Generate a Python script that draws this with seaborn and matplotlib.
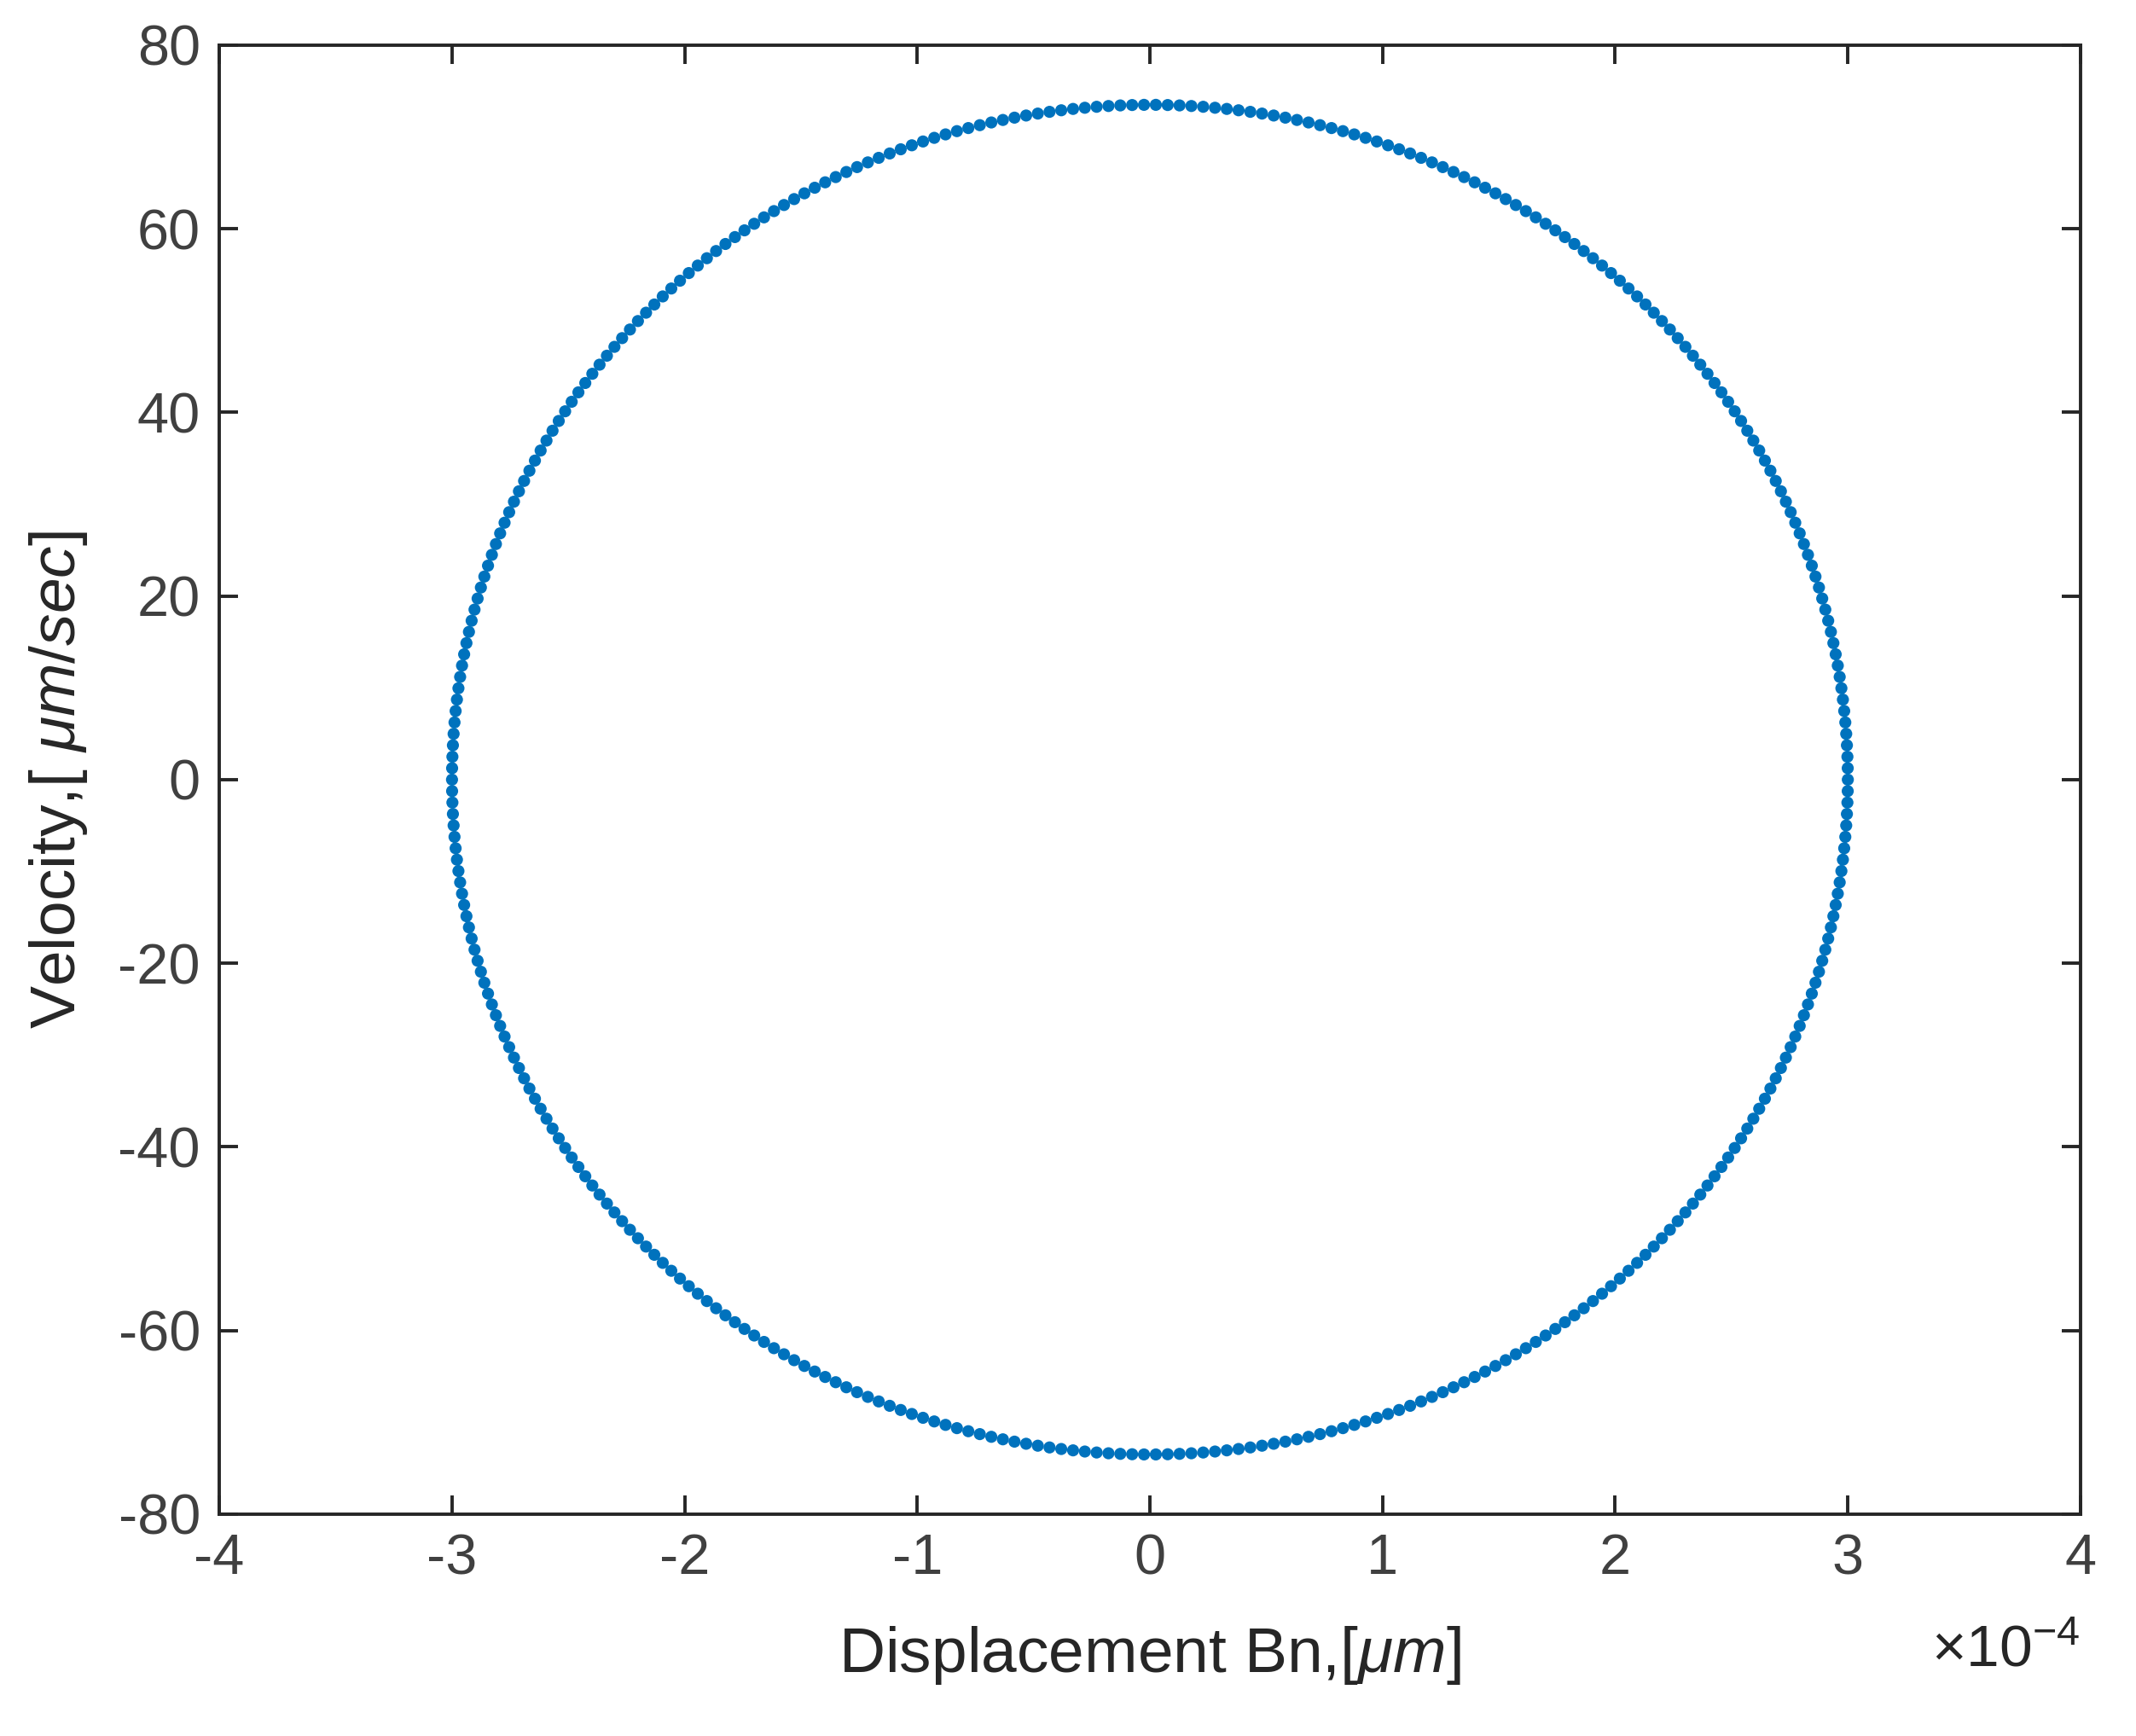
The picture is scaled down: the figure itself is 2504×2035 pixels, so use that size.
import numpy as np
import pandas as pd
import seaborn as sns
import matplotlib.pyplot as plt
from matplotlib.ticker import FuncFormatter

# phase portrait: displacement amplitude and peak velocity
disp_amplitude = 3.0e-4      # um
vel_amplitude = 73.5         # um/sec
n_samples = 370              # dots around the loop
x_ticks = [-4, -3, -2, -1, 0, 1, 2, 3, 4]
y_ticks = [-80, -60, -40, -20, 0, 20, 40, 60, 80]

phase = np.linspace(0, 2 * np.pi, n_samples, endpoint=False)
df = pd.DataFrame({
    "disp": disp_amplitude * np.cos(phase),
    "vel": -vel_amplitude * np.sin(phase),
})

sns.set_style("white")
plt.rcParams["font.family"] = ["Liberation Sans", "DejaVu Sans"]
plt.rcParams["mathtext.fontset"] = "custom"
plt.rcParams["mathtext.it"] = "Liberation Sans:italic"
plt.rcParams["mathtext.rm"] = "Liberation Sans"

fig = plt.figure(figsize=(12.52, 10.175), dpi=200)
ax = fig.add_axes([0.1027, 0.1278, 0.8713, 0.8462])

sns.scatterplot(data=df, x="disp", y="vel", ax=ax, s=26, color="#0072BD",
                edgecolor="none", linewidth=0)

ax.set_xlim(-4e-4, 4e-4)
ax.set_ylim(-80, 80)
ax.set_xticks([t * 1e-4 for t in x_ticks])
ax.set_yticks(y_ticks)
ax.xaxis.set_major_formatter(FuncFormatter(lambda v, p: f"{v * 1e4:.0f}"))
ax.yaxis.set_major_formatter(FuncFormatter(lambda v, p: f"{v:.0f}"))

ax.tick_params(direction="in", length=8, width=1.4, colors="#262626",
               labelcolor="#404040", labelsize=24, pad=8,
               top=True, right=True, bottom=True, left=True)
for sp in ax.spines.values():
    sp.set_color("#262626")
    sp.set_linewidth(1.4)

ax.set_xlabel(r"Displacement Bn,[$\mu m$]", fontsize=27, color="#262626", labelpad=16)
ax.set_ylabel(r"Velocity,[ $\mu m/sec$]", fontsize=27, color="#262626", labelpad=12)
fig.text(0.974, 0.033, r"$\times$10$^{\mathregular{-4}}$", ha="right", va="bottom",
         fontsize=25, color="#262626")

fig.savefig("out.png", dpi=200)
